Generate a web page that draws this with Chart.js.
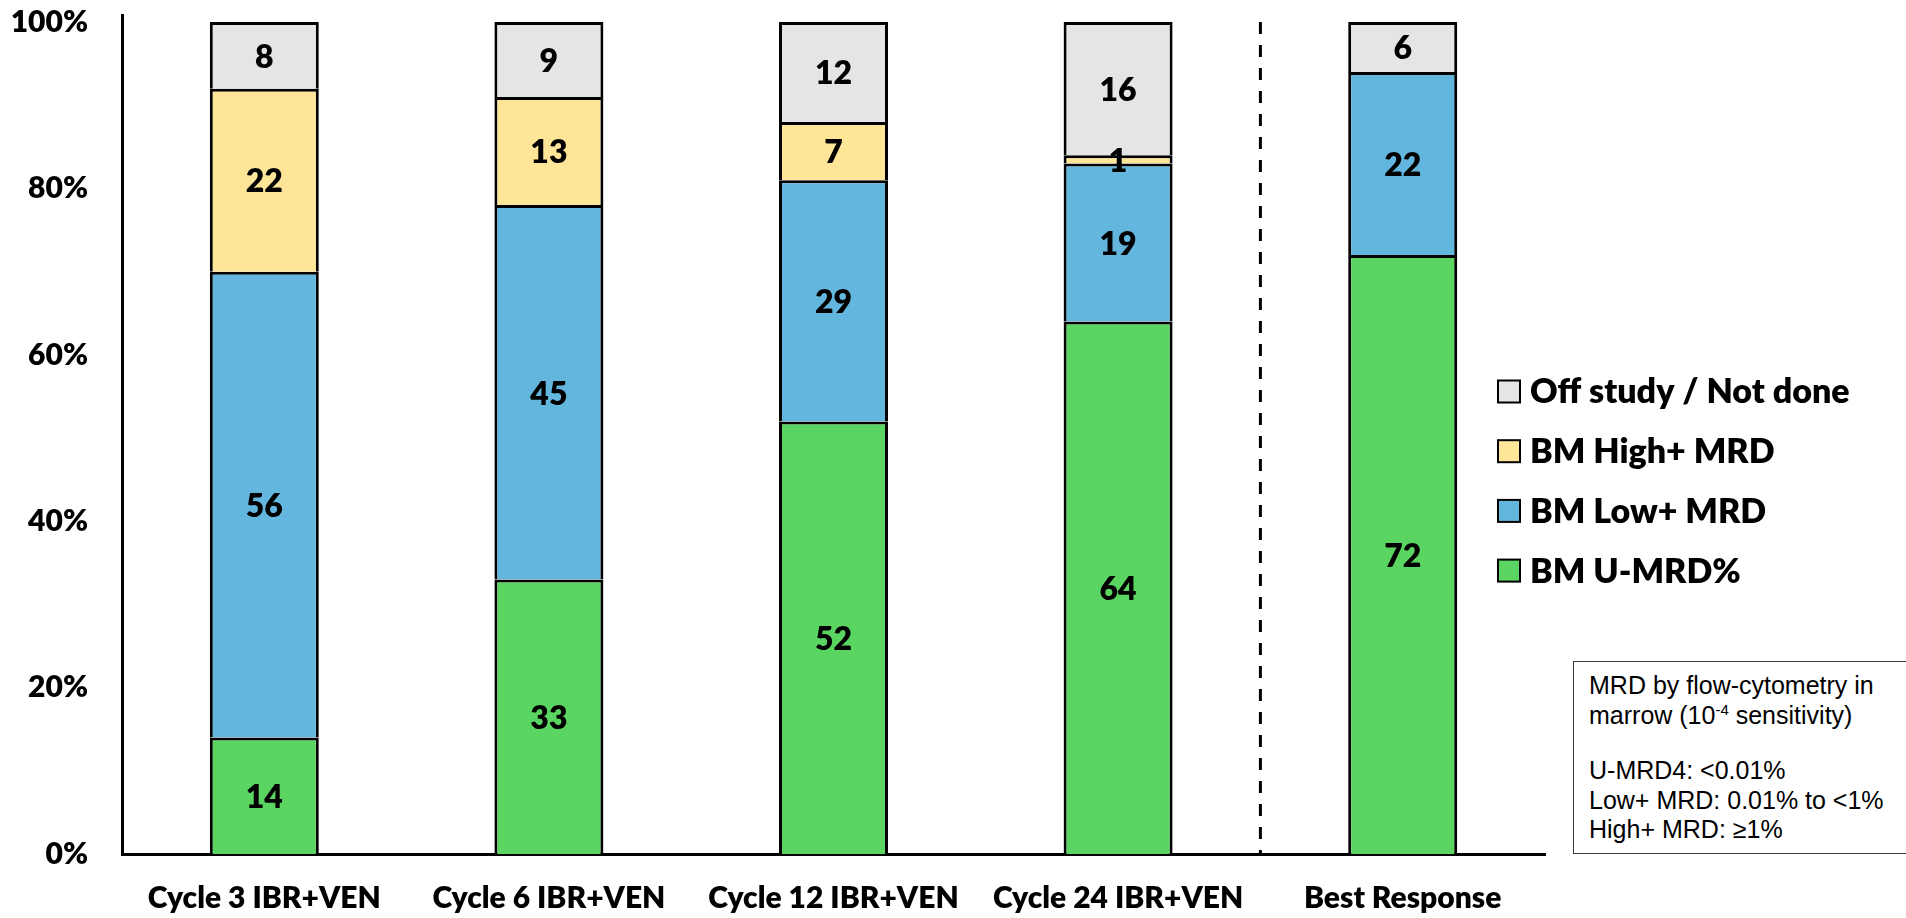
<!DOCTYPE html>
<html>
<head>
<meta charset="utf-8">
<script src="https://cdn.jsdelivr.net/npm/chart.js@4.4.1/dist/chart.umd.min.js"></script>
<style>
  html, body { margin: 0; padding: 0; background: #fff; width: 1906px; height: 918px; overflow: hidden; }
  #wrap { position: relative; width: 1906px; height: 918px; }
  canvas { display: block; }
  #note {
    position: absolute; left: 1573px; top: 661px; width: 334px; height: 193px;
    box-sizing: border-box; border: 1.5px solid #3a3a3a; background: #fff;
    font-family: 'Liberation Sans', Arial, sans-serif; font-size: 25px; line-height: 29.5px; color: #000;
    padding: 9px 0 0 15px; white-space: nowrap;
  }
  #note p { margin: 0; }
  #note p + p { margin-top: 26px; }
  #note sup { font-size: 15px; vertical-align: 9px; line-height: 0; }
</style>
</head>
<body>
<div id="wrap">
  <canvas id="c" width="1906" height="918"></canvas>
  <div id="note">
    <p>MRD by flow-cytometry in<br>marrow (10<sup>-4</sup> sensitivity)</p>
    <p>U-MRD4: &lt;0.01%<br>Low+ MRD: 0.01% to &lt;1%<br>High+ MRD: ≥1%</p>
  </div>
</div>
<script>
const categories = ['Cycle 3 IBR+VEN', 'Cycle 6 IBR+VEN', 'Cycle 12 IBR+VEN', 'Cycle 24 IBR+VEN', 'Best Response'];
const uMRD     = [14, 33, 52, 64, 72];
const lowMRD   = [56, 45, 29, 19, 22];
const highMRD  = [22, 13, 7, 1, 0];
const offStudy = [8, 9, 12, 16, 6];
const seriesNames = ['BM U-MRD%', 'BM Low+ MRD', 'BM High+ MRD', 'Off study / Not done'];
const yTickValues = [0, 20, 40, 60, 80, 100];

const colors = ['#5BD562', '#63B7DF', '#FFE598', '#E5E5E5'];
const BOLD = "'Lato', 'Open Sans', sans-serif";

const datasets = [uMRD, lowMRD, highMRD, offStudy].map((d, i) => ({
  label: seriesNames[i],
  data: d,
  backgroundColor: colors[i],
  borderColor: '#000',
  borderWidth: 3,
  barPercentage: 0.383,
  categoryPercentage: 1.0
}));

const valueLabels = {
  id: 'valueLabels',
  afterDatasetsDraw(chart) {
    const ctx = chart.ctx;
    ctx.save();
    ctx.font = '800 32px ' + BOLD;
    ctx.fillStyle = '#000';
    ctx.textAlign = 'center';
    ctx.textBaseline = 'middle';
    chart.data.datasets.forEach((ds, di) => {
      const meta = chart.getDatasetMeta(di);
      meta.data.forEach((el, i) => {
        const v = ds.data[i];
        if (!v) return;
        const p = el.getProps(['x', 'y', 'base'], true);
        ctx.fillText(String(v), p.x, (p.y + p.base) / 2 + 2);
      });
    });
    ctx.restore();
  }
};

const divider = {
  id: 'divider',
  afterDatasetsDraw(chart) {
    const xs = chart.scales.x, ys = chart.scales.y, ctx = chart.ctx;
    const x = (xs.getPixelForValue(3) + xs.getPixelForValue(4)) / 2;
    ctx.save();
    ctx.strokeStyle = '#000';
    ctx.lineWidth = 3;
    ctx.setLineDash([12, 11]);
    ctx.beginPath();
    ctx.moveTo(x, ys.getPixelForValue(100));
    ctx.lineTo(x, ys.getPixelForValue(0));
    ctx.stroke();
    ctx.restore();
  }
};

const sideLegend = {
  id: 'sideLegend',
  afterDraw(chart) {
    const ctx = chart.ctx;
    const items = chart.data.datasets.map(d => ({ label: d.label, color: d.backgroundColor })).reverse();
    ctx.save();
    ctx.font = '800 34px ' + BOLD;
    ctx.textBaseline = 'middle';
    ctx.textAlign = 'left';
    items.forEach((it, i) => {
      const cy = 391.5 + i * 59.7;
      ctx.fillStyle = it.color;
      ctx.fillRect(1498, cy - 11, 22, 22);
      ctx.strokeStyle = '#000';
      ctx.lineWidth = 2;
      ctx.strokeRect(1498, cy - 11, 22, 22);
      ctx.fillStyle = '#000';
      ctx.fillText(it.label, 1530, cy + 1);
    });
    ctx.restore();
  }
};

new Chart(document.getElementById('c'), {
  type: 'bar',
  data: { labels: categories, datasets },
  options: {
    responsive: false,
    animation: false,
    devicePixelRatio: 1,
    layout: { padding: { top: 15, right: 361, left: 0, bottom: 0 } },
    plugins: { legend: { display: false }, tooltip: { enabled: false } },
    scales: {
      x: {
        stacked: true,
        grid: { display: false, drawTicks: false },
        border: { display: true, color: '#000', width: 3 },
        ticks: { color: '#000', font: { family: BOLD, size: 30, weight: '800' }, padding: 26, maxRotation: 0, autoSkip: false },
        afterFit(s) { s.height = 64; s.paddingLeft = 0; s.paddingRight = 0; }
      },
      y: {
        stacked: true,
        min: 0,
        max: 100.85,
        grid: { display: false, drawTicks: false },
        border: { display: true, color: '#000', width: 3 },
        afterBuildTicks(s) { s.ticks = yTickValues.map(v => ({ value: v })); },
        ticks: {
          color: '#000',
          font: { family: BOLD, size: 30, weight: '800' },
          padding: 34,
          callback: v => v + '%'
        },
        afterFit(s) { s.width = 122; s.paddingTop = 0; s.paddingBottom = 0; }
      }
    }
  },
  plugins: [valueLabels, divider, sideLegend]
});
</script>
</body>
</html>
